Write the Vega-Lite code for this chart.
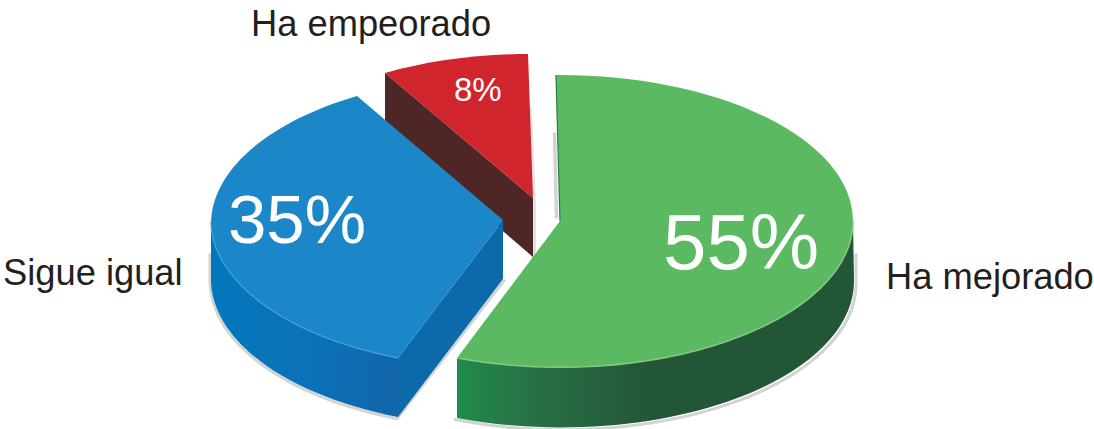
{
"$schema":"https://vega.github.io/schema/vega-lite/v6.json",
"width":1094,"height":429,"padding":0,"autosize":{"type":"none"},
"background":"white",
"config":{"view":{"stroke":null}},
"data":{"values":[
{"categoria":"Ha mejorado","porcentaje":0.55},
{"categoria":"Sigue igual","porcentaje":0.35},
{"categoria":"Ha empeorado","porcentaje":0.08}]},
"encoding":{},
"layer":[
{"transform":[{"filter":{"field":"categoria","equal":"Ha empeorado"}}],"mark":{"type":"point","size":4,"filled":false,"opacity":0.16,"strokeWidth":4,"stroke":"#555555","strokeCap":"round","shape":"M-17 -105 L-13 -10 L-13 46"}},
{"transform":[{"filter":{"field":"categoria","equal":"Sigue igual"}}],"mark":{"type":"point","size":4,"filled":false,"opacity":0.25,"strokeWidth":3,"stroke":"#555555","strokeCap":"round","shape":"M-337 40 L-337 68 A292 148 0 0 0 -150 204 L-43 66"}},
{"transform":[{"filter":{"field":"categoria","equal":"Ha mejorado"}}],"mark":{"type":"point","size":4,"filled":false,"opacity":0.25,"strokeWidth":3,"stroke":"#555555","strokeCap":"round","shape":"M309 40 L309 68 A293 146 0 0 1 -92 205"}},
{"transform":[{"filter":{"field":"categoria","equal":"Ha mejorado"}}],"mark":{"type":"point","size":4,"filled":false,"opacity":0.25,"strokeWidth":3.5,"stroke":"#555555","strokeCap":"butt","shape":"M7.5 -82 L9.5 4 M-88 146 L3 24"}},
{"transform":[{"filter":{"field":"categoria","equal":"Ha empeorado"}}],"mark":{"type":"point","size":4,"filled":true,"opacity":1,"strokeWidth":0,"fill":"#4D2625","shape":"M-162 -141.5 L-14 -16.5 L-14 42.5 L-162 -84.5 Z"}},
{"transform":[{"filter":{"field":"categoria","equal":"Ha empeorado"}}],"mark":{"type":"point","size":4,"filled":true,"opacity":1,"strokeWidth":0,"fill":"#D1252E","shape":"M-162 -141.5 A292 146 0 0 1 -19 -160.5 L-14 -16.5 Z"}},
{"transform":[{"filter":{"field":"categoria","equal":"Sigue igual"}}],"mark":{"type":"point","size":4,"filled":true,"opacity":1,"strokeWidth":0,"fill":{"x1":0,"y1":0,"x2":1,"y2":0,"gradient":"linear","stops":[{"offset":0,"color":"#0477BC"},{"offset":0.5,"color":"#0A72B9"},{"offset":1,"color":"#1265A8"}]},"shape":"M-336 7.5 L-336 67.5 A292 148 0 0 0 -149 202.5 L-149 143.5 A292 148 0 0 1 -336 7.5 Z"}},
{"transform":[{"filter":{"field":"categoria","equal":"Sigue igual"}}],"mark":{"type":"point","size":4,"filled":true,"opacity":1,"strokeWidth":0,"fill":"#0C69AA","shape":"M-149 143.5 L-44 5.5 L-44 64.5 L-149 202.5 Z"}},
{"transform":[{"filter":{"field":"categoria","equal":"Sigue igual"}}],"mark":{"type":"point","size":4,"filled":true,"opacity":1,"strokeWidth":0,"fill":"#1B87C9","shape":"M-190 -118.5 A292 148 0 0 0 -336 7.5 A292 148 0 0 0 -149 143.5 L-44 5.5 Z"}},
{"transform":[{"filter":{"field":"categoria","equal":"Sigue igual"}}],"mark":{"type":"point","size":4,"filled":false,"opacity":1,"strokeWidth":1.5,"stroke":"#3EA0DA","shape":"M-336 7.5 A292 148 0 0 0 -149 143.5"}},
{"transform":[{"filter":{"field":"categoria","equal":"Ha mejorado"}}],"mark":{"type":"point","size":4,"filled":true,"opacity":1,"strokeWidth":0,"fill":{"x1":0,"y1":0,"x2":1,"y2":0,"gradient":"linear","stops":[{"offset":0,"color":"#218B4B"},{"offset":0.2,"color":"#286F45"},{"offset":0.48,"color":"#235636"},{"offset":1,"color":"#235636"}]},"shape":"M306 6.5 L307 66.5 A293 146 0 0 1 -90 203.5 L-90 143.5 A293 146 0 0 0 306 6.5 Z"}},
{"transform":[{"filter":{"field":"categoria","equal":"Ha mejorado"}}],"mark":{"type":"point","size":4,"filled":true,"opacity":1,"strokeWidth":0,"fill":"#5BBA61","shape":"M9 -139.5 A293 146 0 0 1 306 6.5 A293 146 0 0 1 -90 143.5 L13 6.5 Z"}},
{"transform":[{"filter":{"field":"categoria","equal":"Ha mejorado"}}],"mark":{"type":"point","size":4,"filled":false,"opacity":1,"strokeWidth":1.5,"stroke":"#84C97F","shape":"M306 6.5 A293 146 0 0 1 -90 143.5"}},
{"transform":[{"filter":{"field":"categoria","equal":"Ha mejorado"}}],"mark":{"type":"point","size":4,"filled":false,"opacity":1,"strokeWidth":1.2,"stroke":"#2A7A4A","shape":"M9 -139.5 L13 6.5"}},
{"transform":[{"filter":{"field":"categoria","equal":"Ha mejorado"}}],"mark":{"type":"text","align":"left","baseline":"alphabetic","font":"Liberation Sans","fontSize":36.3,"fill":"#231F20","dx":339,"dy":74.5},"encoding":{"text":{"field":"categoria"}}},
{"transform":[{"filter":{"field":"categoria","equal":"Sigue igual"}}],"mark":{"type":"text","align":"left","baseline":"alphabetic","font":"Liberation Sans","fontSize":36.3,"fill":"#231F20","dx":-544,"dy":70},"encoding":{"text":{"field":"categoria"}}},
{"transform":[{"filter":{"field":"categoria","equal":"Ha empeorado"}}],"mark":{"type":"text","align":"left","baseline":"alphabetic","font":"Liberation Sans","fontSize":36.3,"fill":"#231F20","dx":-296,"dy":-178.5},"encoding":{"text":{"field":"categoria"}}},
{"transform":[{"filter":{"field":"categoria","equal":"Ha mejorado"}}],"mark":{"type":"text","align":"left","baseline":"alphabetic","font":"Liberation Sans","fontSize":78,"fill":"white","dx":116,"dy":54},"encoding":{"text":{"field":"porcentaje","type":"quantitative","format":".0%"}}},
{"transform":[{"filter":{"field":"categoria","equal":"Sigue igual"}}],"mark":{"type":"text","align":"left","baseline":"alphabetic","font":"Liberation Sans","fontSize":69,"fill":"white","dx":-319,"dy":28},"encoding":{"text":{"field":"porcentaje","type":"quantitative","format":".0%"}}},
{"transform":[{"filter":{"field":"categoria","equal":"Ha empeorado"}}],"mark":{"type":"text","align":"left","baseline":"alphabetic","font":"Liberation Sans","fontSize":33,"fill":"white","dx":-93,"dy":-114},"encoding":{"text":{"field":"porcentaje","type":"quantitative","format":".0%"}}}
]
}
